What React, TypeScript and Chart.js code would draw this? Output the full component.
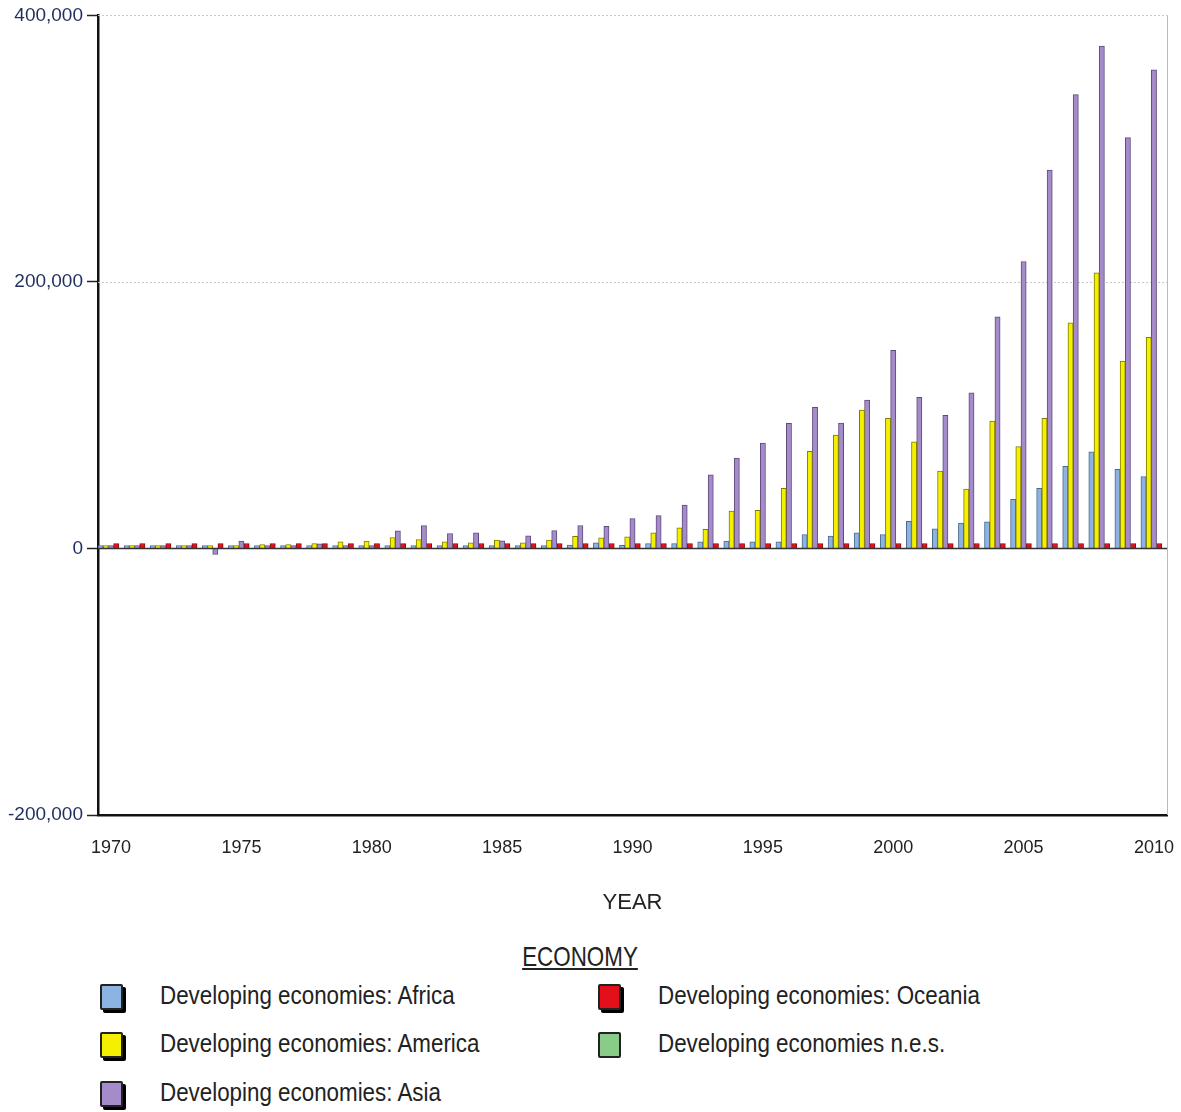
import React, { useEffect, useRef } from "react";
import { Chart, registerables } from "chart.js";

Chart.register(...registerables);

const years: string[] = [
  "1970","1971","1972","1973","1974","1975","1976","1977","1978","1979",
  "1980","1981","1982","1983","1984","1985","1986","1987","1988","1989",
  "1990","1991","1992","1993","1994","1995","1996","1997","1998","1999",
  "2000","2001","2002","2003","2004","2005","2006","2007","2008","2009","2010",
];

const africa: number[] = [
  1000, 1000, 800, 1200, 1000, 1500, 1200, 1000, 1200, 1000,
  1200, 1500, 1800, 1500, 1600, 2000, 1800, 1600, 2500, 4200,
  2400, 3700, 3700, 5000, 5500, 5000, 5000, 10500, 9300, 11800,
  10500, 20400, 14800, 19100, 19900, 36900, 45100, 61700, 72600, 59400, 54000,
];

const america: number[] = [
  1200, 1000, 1300, 1500, 1200, 2000, 3000, 3000, 3700, 5000,
  5500, 8200, 6700, 5000, 4200, 6200, 4200, 6200, 9200, 8000,
  8700, 11700, 15500, 14300, 28100, 28600, 45200, 72800, 85100, 103900,
  97600, 80000, 58000, 44600, 95500, 76400, 97600, 169400, 206900, 140600, 158500,
];

const asia: number[] = [
  600, 500, 600, 800, -4500, 5500, 1000, 2000, 3500, 1000,
  1000, 13200, 17200, 11200, 11700, 5700, 9500, 13500, 17200, 16700,
  22500, 24700, 32500, 55200, 67800, 79000, 93900, 105900, 94100, 111400,
  148600, 113400, 99900, 116700, 173800, 215300, 284000, 340600, 377000, 308300, 359200,
];

const oceania: number[] = [
  300, 300, 300, 300, 300, 400, 300, 300, 400, 400,
  400, 400, 400, 300, 400, 400, 400, 500, 500, 500,
  500, 500, 500, 600, 600, 600, 600, 700, 600, 600,
  700, 700, 600, 700, 800, 900, 900, 1000, 1000, 900, 1000,
];

const nes: number[] = [
  0, 0, 0, 0, 0, 0, 0, 0, 0, 0,
  0, 0, 0, 0, 0, 0, 0, 0, 0, 0,
  0, 0, 0, 0, 0, 0, 0, 0, 0, 0,
  0, 0, 0, 0, 0, 0, 0, 0, 0, 0, 0,
];

const seriesNames: string[] = [
  "Developing economies: Africa",
  "Developing economies: America",
  "Developing economies: Asia",
  "Developing economies: Oceania",
  "Developing economies n.e.s.",
];

const yTicks: number[] = [-200000, 0, 200000, 400000];

const FONT = '"Liberation Sans", Arial, sans-serif';

const fills = ["#8DB3E2", "#F5F000", "#A58BC9", "#E3101C", "#88CC88"];
const borders = ["#4A6A8F", "#7F7A00", "#5E4B7E", "#8A0A10", "#3F6F3F"];

const gridPlugin = {
  id: "customGrid",
  beforeDatasetsDraw(chart: any) {
    const { ctx, chartArea } = chart;
    const y = chart.scales.y;
    ctx.save();
    ctx.strokeStyle = "#c8c8c8";
    ctx.lineWidth = 1;
    ctx.setLineDash([2, 2]);
    [200000, 400000].forEach((v) => {
      const py = Math.round(y.getPixelForValue(v)) + 0.5;
      ctx.beginPath();
      ctx.moveTo(chartArea.left, py);
      ctx.lineTo(chartArea.right, py);
      ctx.stroke();
    });
    ctx.setLineDash([]);
    ctx.strokeStyle = "#bbbbbb";
    ctx.beginPath();
    ctx.moveTo(chartArea.right + 0.5, chartArea.top);
    ctx.lineTo(chartArea.right + 0.5, chartArea.bottom);
    ctx.stroke();
    ctx.restore();
  },
  afterDatasetsDraw(chart: any) {
    const { ctx, chartArea } = chart;
    const y = chart.scales.y;
    ctx.save();
    const z = Math.round(y.getPixelForValue(0)) + 0.5;
    ctx.strokeStyle = "#333333";
    ctx.lineWidth = 1.5;
    ctx.beginPath();
    ctx.moveTo(chartArea.left, z);
    ctx.lineTo(chartArea.right, z);
    ctx.stroke();
    ctx.restore();
  },
};

function ChartView() {
  const ref = useRef<HTMLCanvasElement | null>(null);
  useEffect(() => {
    if (!ref.current) return;
    const dataArrays = [africa, america, asia, oceania, nes];
    const chart = new Chart(ref.current, {
      type: "bar",
      data: {
        labels: years,
        datasets: dataArrays.map((d, i) => ({
          label: seriesNames[i],
          data: d,
          backgroundColor: fills[i],
          borderColor: borders[i],
          borderWidth: i === 4 ? 0 : 1,
          minBarLength: i === 4 ? 0 : i === 3 ? 5 : 3,
          categoryPercentage: 1.0,
          barPercentage: 1.0,
        })),
      },
      options: {
        animation: false,
        responsive: false,
        maintainAspectRatio: false,
        layout: { padding: { left: 0, right: 14, top: 14, bottom: 0 } },
        plugins: {
          legend: { display: false },
          tooltip: { enabled: false },
        },
        scales: {
          x: {
            type: "category",
            offset: true,
            grid: {
              display: true,
              drawOnChartArea: false,
              drawTicks: true,
              tickLength: 22,
              tickColor: "rgba(0,0,0,0)",
            },
            border: { display: true, color: "#111", width: 2.5 },
            ticks: {
              autoSkip: false,
              maxRotation: 0,
              padding: 0,
              color: "#222",
              font: { family: FONT, size: 18 },
              callback: function (this: any, _v: any, idx: number) {
                const lab = years[idx];
                return Number(lab) % 5 === 0 ? lab : "";
              },
            },
            title: {
              display: true,
              text: "YEAR",
              color: "#222",
              font: { family: FONT, size: 22 },
              padding: { top: 0, bottom: 14 },
            },
            afterFit: (s: any) => {
              s.height = 115;
            },
          },
          y: {
            min: -200000,
            max: 400000,
            afterBuildTicks: (s: any) => {
              s.ticks = yTicks.map((v) => ({ value: v }));
            },
            grid: {
              drawOnChartArea: false,
              drawTicks: true,
              tickLength: 11,
              tickColor: "#222",
              tickWidth: 1.5,
            },
            border: { display: true, color: "#111", width: 2.5 },
            ticks: {
              padding: 4,
              color: "#1f2f5f",
              font: { family: FONT, size: 19 },
              callback: (v: any) => Number(v).toLocaleString("en-US"),
            },
            afterFit: (s: any) => {
              s.width = 98;
            },
          },
        },
      },
      plugins: [gridPlugin],
    });
    return () => chart.destroy();
  }, []);
  return <canvas ref={ref} width={1181} height={930} style={{ display: "block" }} />;
}

const legendRows: { name: number; x: number; y: number }[] = [
  { name: 0, x: 100, y: 996 },
  { name: 1, x: 100, y: 1044 },
  { name: 2, x: 100, y: 1093 },
  { name: 3, x: 598, y: 996 },
  { name: 4, x: 598, y: 1044 },
];

export default function App() {
  return (
    <div
      style={{
        position: "absolute",
        left: 0,
        top: 0,
        width: 1181,
        height: 1112,
        background: "#fff",
        overflow: "hidden",
        fontFamily: FONT,
      }}
    >
      <ChartView />
      <div
        style={{
          position: "absolute",
          left: 480,
          width: 200,
          top: 941,
          textAlign: "center",
          fontSize: 28,
          lineHeight: "32px",
          color: "#222",
          textDecoration: "underline",
          transform: "scaleX(0.8)",
          transformOrigin: "center",
        }}
      >
        ECONOMY
      </div>
      {legendRows.map((r) => {
        const i = r.name;
        const shadow = i === 4 ? "none" : "3px 3px 0 #000";
        return (
          <React.Fragment key={i}>
            <div
              style={{
                position: "absolute",
                left: r.x,
                top: r.y - 12,
                width: 19,
                height: 22,
                background: fills[i],
                border: "2px solid #222",
                borderRadius: 2,
                boxShadow: shadow,
              }}
            />
            <div
              style={{
                position: "absolute",
                left: r.x + 60,
                top: r.y - 16,
                fontSize: 26,
                lineHeight: "30px",
                color: "#222",
                whiteSpace: "nowrap",
                transform: "scaleX(0.86)",
                transformOrigin: "left center",
              }}
            >
              {seriesNames[i]}
            </div>
          </React.Fragment>
        );
      })}
    </div>
  );
}
